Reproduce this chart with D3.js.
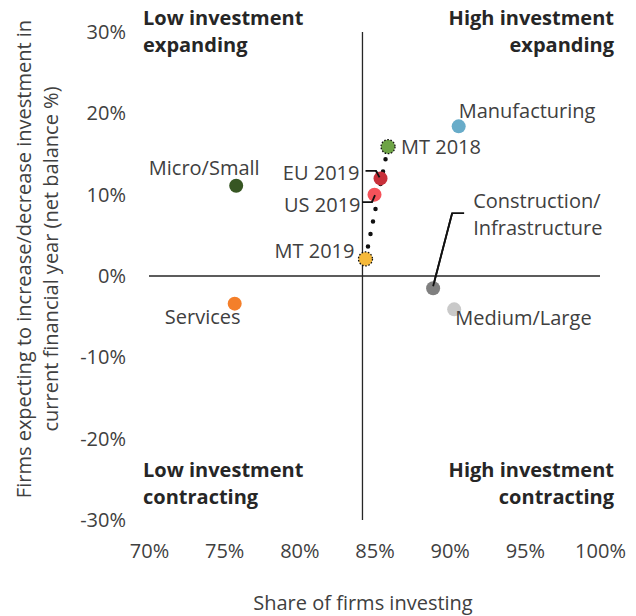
<!DOCTYPE html>
<html>
<head>
<meta charset="utf-8">
<script src="https://cdn.jsdelivr.net/npm/d3@7"></script>
<style>
  body { margin: 0; background: #fff; }
  text { font-family: "Open Sans", "Noto Sans", sans-serif; }
</style>
</head>
<body>
<div id="chart"></div>
<script>
// data
const names = ["Manufacturing", "Micro/Small", "Services", "Construction/\nInfrastructure", "Medium/Large", "MT 2018", "EU 2019", "US 2019", "MT 2019"];
const shareInvesting = [0.906, 0.758, 0.757, 0.889, 0.903, 0.859, 0.854, 0.850, 0.844];
const netBalance = [0.184, 0.111, -0.034, -0.015, -0.041, 0.159, 0.120, 0.100, 0.021];
const colors = ["#68acc9", "#375623", "#f47f2a", "#7f7f7f", "#c9c9c9", "#6ea446", "#c8303a", "#f5525a", "#f5b93a"];
const xTicks = [0.70, 0.75, 0.80, 0.85, 0.90, 0.95, 1.00];
const yTicks = [-0.3, -0.2, -0.1, 0, 0.1, 0.2, 0.3];
const crossX = 0.842; // vertical axis crosses here

// label placement, relative to the point
const labelPos = {
  "Manufacturing": { dx: 0, dy: -8, anchor: "start" },
  "Micro/Small": { dx: -32, dy: -11, anchor: "middle" },
  "Services": { dx: -32, dy: 20, anchor: "middle" },
  "Construction/\nInfrastructure": { dx: 40, dy: -80, anchor: "start", leader: [[31, -75], [19, -75], [0, -2]] },
  "Medium/Large": { dx: 1, dy: 16, anchor: "start" },
  "MT 2018": { dx: 13, dy: 7, anchor: "start" },
  "EU 2019": { dx: -21, dy: 2, anchor: "end", leader: [[-15, -7.5], [-4.5, -7.5], [-1, -1]] },
  "US 2019": { dx: -14, dy: 17, anchor: "end", leader: [[-12.5, 7.5], [-2.5, 7.5], [0.5, 0.5]] },
  "MT 2019": { dx: -11, dy: -1, anchor: "end" }
};

const points = names.map((n, i) => ({ name: n, x: shareInvesting[i], y: netBalance[i], color: colors[i] }));

const W = 636, H = 616;
const margin = { top: 32, right: 36, bottom: 96, left: 149 };
const width = W - margin.left - margin.right;
const height = H - margin.top - margin.bottom;
const fs = 20;

const x = d3.scaleLinear().domain([0.70, 1.00]).range([0, width]);
const y = d3.scaleLinear().domain([-0.3, 0.3]).range([height, 0]);
const pct = v => d3.format(".0%")(v).replace("−", "-");

const svg = d3.select("#chart").append("svg")
  .attr("width", W)
  .attr("height", H);

const g = svg.append("g")
  .attr("transform", `translate(${margin.left},${margin.top})`);

// x axis labels (no line, no ticks)
const xAxis = g.append("g")
  .attr("transform", `translate(0,${height})`)
  .call(d3.axisBottom(x).tickValues(xTicks).tickFormat(pct).tickSize(0).tickPadding(24));
xAxis.select(".domain").remove();
xAxis.selectAll("text")
  .attr("font-size", fs)
  .attr("fill", "#404040")
  .style("font-family", "'Open Sans', sans-serif");

const yAxis = g.append("g")
  .call(d3.axisLeft(y).tickValues(yTicks).tickFormat(pct).tickSize(0).tickPadding(23));
yAxis.select(".domain").remove();
yAxis.selectAll("text")
  .attr("font-size", fs)
  .attr("fill", "#404040")
  .style("font-family", "'Open Sans', sans-serif");

// quadrant lines
g.append("line")
  .attr("x1", x(0.70)).attr("x2", x(1.00))
  .attr("y1", y(0)).attr("y2", y(0))
  .attr("stroke", "#262626").attr("stroke-width", 1.3);
g.append("line")
  .attr("x1", x(crossX)).attr("x2", x(crossX))
  .attr("y1", y(0.3)).attr("y2", y(-0.3))
  .attr("stroke", "#262626").attr("stroke-width", 1.3);

// quadrant captions
const quads = [
  { lines: ["Low investment", "expanding"], x: -6, y: -7, anchor: "start" },
  { lines: ["High investment", "expanding"], x: width + 14, y: -7, anchor: "end" },
  { lines: ["Low investment", "contracting"], x: -6, y: 445, anchor: "start" },
  { lines: ["High investment", "contracting"], x: width + 14, y: 445, anchor: "end" }
];
quads.forEach(q => {
  const t = g.append("text")
    .attr("x", q.x).attr("y", q.y)
    .attr("text-anchor", q.anchor)
    .attr("font-size", fs)
    .attr("font-weight", "bold")
    .attr("fill", "#262626");
  q.lines.forEach((l, i) => {
    t.append("tspan").attr("x", q.x).attr("dy", i === 0 ? 0 : 27).text(l);
  });
});

// dotted trajectory MT 2018 -> MT 2019
const mt18 = points.find(d => d.name === "MT 2018");
const mt19 = points.find(d => d.name === "MT 2019");
const segLen = Math.hypot(x(mt18.x) - x(mt19.x), y(mt18.y) - y(mt19.y));
g.append("line")
  .attr("x1", x(mt18.x)).attr("y1", y(mt18.y))
  .attr("x2", x(mt19.x)).attr("y2", y(mt19.y))
  .attr("stroke", "#111")
  .attr("stroke-width", 4.5)
  .attr("stroke-linecap", "round")
  .attr("stroke-dasharray", `0,${segLen / 9}`);

// leader lines
points.forEach(d => {
  const p = labelPos[d.name];
  if (!p.leader) return;
  const px = x(d.x), py = y(d.y);
  g.append("path")
    .attr("d", d3.line()(p.leader.map(o => [px + o[0], py + o[1]])))
    .attr("fill", "none")
    .attr("stroke", "#111")
    .attr("stroke-width", 1.8);
});

// markers
g.selectAll("circle.pt")
  .data(points)
  .enter()
  .append("circle")
  .attr("class", "pt")
  .attr("cx", d => x(d.x))
  .attr("cy", d => y(d.y))
  .attr("r", 7)
  .attr("fill", d => d.color)
  .attr("stroke", d => d.name.startsWith("MT") ? "#111" : "none")
  .attr("stroke-width", 1.3)
  .attr("stroke-dasharray", d => d.name.startsWith("MT") ? "1.6,1.6" : null);

// redraw leader ends on top of their markers
points.forEach(d => {
  const p = labelPos[d.name];
  if (!p.leader) return;
  const px = x(d.x), py = y(d.y);
  const n = p.leader.length;
  g.append("path")
    .attr("d", d3.line()(p.leader.slice(n - 2).map(o => [px + o[0], py + o[1]])))
    .attr("fill", "none")
    .attr("stroke", "#111")
    .attr("stroke-width", 1.8);
});

// point labels
points.forEach(d => {
  const p = labelPos[d.name];
  const lx = x(d.x) + p.dx, ly = y(d.y) + p.dy;
  const t = g.append("text")
    .attr("x", lx).attr("y", ly)
    .attr("text-anchor", p.anchor)
    .attr("font-size", fs)
    .attr("fill", "#404040");
  d.name.split("\n").forEach((l, i) => {
    t.append("tspan").attr("x", lx).attr("dy", i === 0 ? 0 : 27).text(l);
  });
});

// axis titles
svg.append("text")
  .attr("x", 363).attr("y", 610)
  .attr("text-anchor", "middle")
  .attr("font-size", fs)
  .attr("fill", "#404040")
  .text("Share of firms investing");

const yTitle = svg.append("text")
  .attr("transform", "translate(31,259) rotate(-90)")
  .attr("text-anchor", "middle")
  .attr("font-size", fs)
  .attr("fill", "#404040");
yTitle.append("tspan").attr("x", 0).attr("dy", 0).text("Firms expecting to increase/decrease investment in");
yTitle.append("tspan").attr("x", 0).attr("dy", 27).text("current financial year  (net balance %)");
</script>
</body>
</html>
